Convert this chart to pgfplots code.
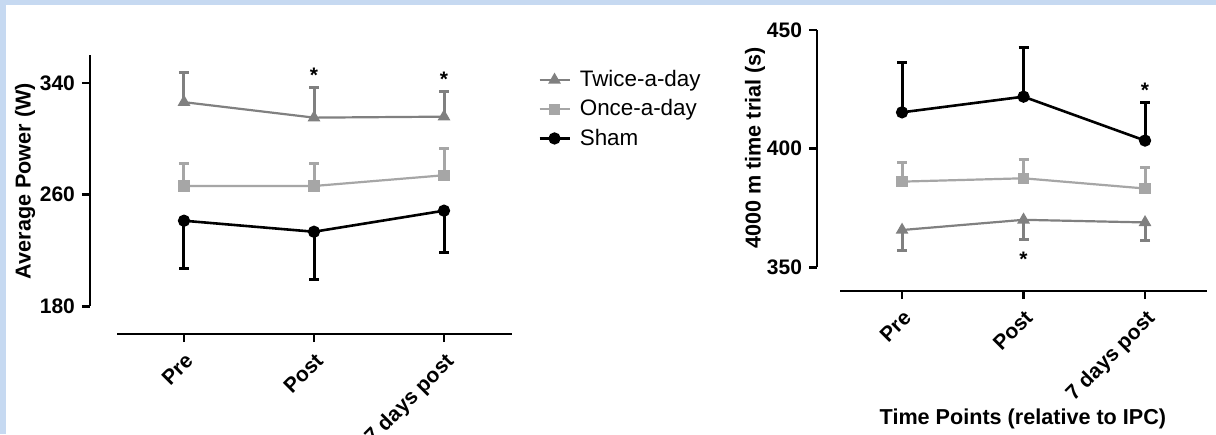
\documentclass[border=0pt]{standalone}
\usepackage{pgfplots}
\pgfplotsset{compat=1.18}
\usepackage{fontspec}
\setmainfont{Liberation Sans}
\definecolor{frameblue}{HTML}{C6D9F1}
\definecolor{twice}{HTML}{808080}
\definecolor{once}{HTML}{A6A6A6}
\begin{document}
\begin{tikzpicture}
\useasboundingbox (0,0) rectangle (608pt,217pt);
\fill[frameblue] (0,0) rectangle (608pt,217pt);
\fill[white] (3pt,0) rectangle (608pt,214.5pt);
\pgfplotsset{
  prism/.style={
    scale only axis,
    axis line style={draw=none},
    axis x line*=bottom, axis y line*=left,
    tick align=outside,
    major tick length=4pt,
    tick style={line width=1.4pt, black},
    xtick={0,1,2},
    xticklabels={Pre,Post,7 days post},
    xticklabel style={rotate=45, anchor=north east, font=\fontsize{10.5}{12}\selectfont\bfseries},
    yticklabel style={font=\fontsize{10.5}{12}\selectfont\bfseries},
    /pgf/number format/assume math mode=true,
    label style={font=\fontsize{10.8}{13}\selectfont\bfseries},
    clip=false,
    error bars/error bar style={line width=1.5pt},
    error bars/error mark options={rotate=90, mark size=2.5pt, line width=1.5pt},
    legend image code/.code={\draw[mark repeat=2,mark phase=2,##1] plot coordinates {(0pt,0pt) (7.5pt,0pt) (15pt,0pt)};},
  },
  twicestyle/.style={color=twice, line width=1.1pt, mark=triangle*, mark size=2.6pt, mark options={solid}},
  oncestyle/.style={color=once, line width=1.1pt, mark=square*, mark size=2.3pt},
  shamstyle/.style={color=black, line width=1.3pt, mark=*, mark size=2.4pt},
}
% ---------------- left panel ----------------
\begin{axis}[prism,
  at={(45pt,50pt)}, anchor=south west,
  width=211pt, height=139.5pt,
  xmin=-0.723, xmax=2.523, ymin=160, ymax=360,
  ytick={180,260,340},
  ylabel={Average Power (W)},
  ylabel style={at={(axis description cs:-0.154,0.548)}, anchor=center},
  legend style={at={(axis description cs:1.047,0.975)}, anchor=north west, draw=none, fill=none,
    font=\fontsize{11.2}{13}\selectfont, row sep=1pt, nodes={inner xsep=4.5pt}},
  legend cell align=left,
]
\draw[line width=1.4pt] (axis cs:-0.723,180) -- (axis cs:-0.723,360);
\draw[line width=1.4pt] (axis cs:-0.515,160) -- (axis cs:2.523,160);
\addplot[twicestyle, error bars/.cd, y dir=plus, y explicit] coordinates {
  (0,326.2) +- (0,21.2)
  (1,315.1) +- (0,21.5)
  (2,315.8) +- (0,18.0)
};
\addlegendentry{Twice-a-day}
\addplot[oncestyle, error bars/.cd, y dir=plus, y explicit] coordinates {
  (0,266.1) +- (0,16.3)
  (1,266.1) +- (0,16.3)
  (2,273.8) +- (0,19.1)
};
\addlegendentry{Once-a-day}
\addplot[shamstyle, error bars/.cd, y dir=minus, y explicit] coordinates {
  (0,241.2) +- (0,34.6)
  (1,233.3) +- (0,33.9)
  (2,248.4) +- (0,29.9)
};
\addlegendentry{Sham}
\node[font=\fontsize{10.5}{12}\selectfont\bfseries, inner sep=0pt, yshift=-2pt] at (axis cs:1,348.1) {*};
\node[font=\fontsize{10.5}{12}\selectfont\bfseries, inner sep=0pt, yshift=-2pt] at (axis cs:2,345.7) {*};
\end{axis}
% ---------------- right panel ----------------
\begin{axis}[prism,
  at={(408.5pt,71.5pt)}, anchor=south west,
  width=195pt, height=130.5pt,
  xmin=-0.70, xmax=2.51, ymin=340, ymax=450,
  ytick={350,400,450},
  ylabel={4000 m time trial (s)},
  ylabel style={at={(axis description cs:-0.159,0.548)}, anchor=center},
  xlabel={Time Points (relative to IPC)},
  xlabel style={at={(axis description cs:0.528,-0.49)}, anchor=center},
]
\draw[line width=1.4pt] (axis cs:-0.70,350) -- (axis cs:-0.70,450);
\draw[line width=1.4pt] (axis cs:-0.51,340) -- (axis cs:2.51,340);
\addplot[twicestyle, error bars/.cd, y dir=minus, y explicit] coordinates {
  (0,365.7) +- (0,8.7)
  (1,370.0) +- (0,8.5)
  (2,368.9) +- (0,7.7)
};
\addplot[oncestyle, error bars/.cd, y dir=plus, y explicit] coordinates {
  (0,386.1) +- (0,7.9)
  (1,387.5) +- (0,8.1)
  (2,383.2) +- (0,8.9)
};
\addplot[shamstyle, error bars/.cd, y dir=plus, y explicit] coordinates {
  (0,415.3) +- (0,21.1)
  (1,421.9) +- (0,20.8)
  (2,403.4) +- (0,16.1)
};
\node[font=\fontsize{10.5}{12}\selectfont\bfseries, inner sep=0pt, yshift=-2pt] at (axis cs:1,355.1) {*};
\node[font=\fontsize{10.5}{12}\selectfont\bfseries, inner sep=0pt, yshift=-2pt] at (axis cs:2,426.4) {*};
\end{axis}
\end{tikzpicture}
\end{document}
